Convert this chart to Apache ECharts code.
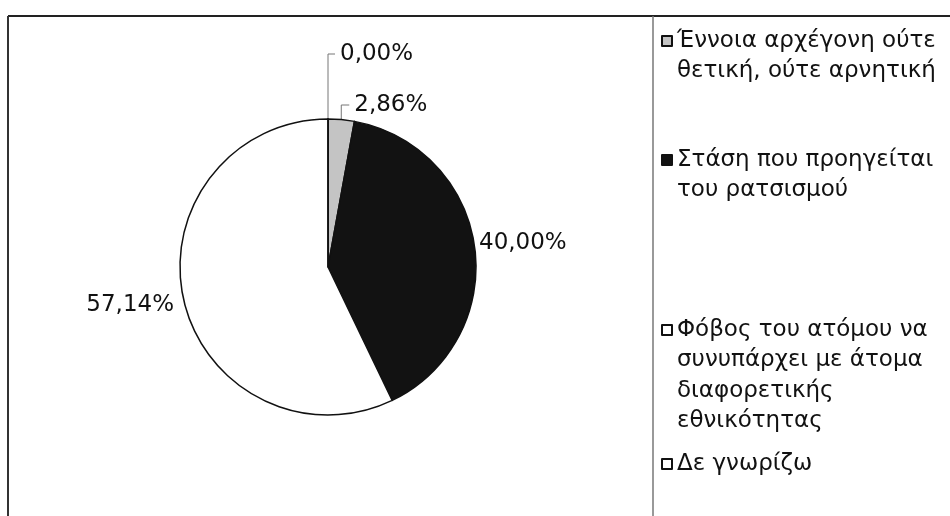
<!DOCTYPE html>
<html>
<head>
<meta charset="utf-8">
<script src="https://cdn.jsdelivr.net/npm/echarts@6/dist/echarts.min.js"></script>
<style>
  html, body { margin: 0; padding: 0; background: #fff; }
  #chart { width: 950px; height: 516px; }
</style>
</head>
<body>
<div id="chart"></div>
<script>
// ---- data ----
const categories = [
  'Έννοια αρχέγονη ούτε θετική, ούτε αρνητική',
  'Στάση που προηγείται του ρατσισμού',
  'Φόβος του ατόμου να συνυπάρχει με άτομα διαφορετικής εθνικότητας',
  'Δε γνωρίζω'
];
const legendLines = [
  ['Έννοια αρχέγονη ούτε', 'θετική, ούτε αρνητική'],
  ['Στάση που προηγείται', 'του ρατσισμού'],
  ['Φόβος του ατόμου να', 'συνυπάρχει με άτομα', 'διαφορετικής', 'εθνικότητας'],
  ['Δε γνωρίζω']
];
const values = [2.86, 40.00, 57.14, 0.00];
const colors = ['#c4c4c4', '#121212', '#ffffff', '#ffffff'];

// ---- layout ----
const CX = 328, CY = 267, R = 148;
const LH = 30.5;
const FONT = 'DejaVu Sans';
const legendIconY = [41, 160, 330, 464];

const chart = echarts.init(document.getElementById('chart'), null, { renderer: 'canvas' });

function fmt(v) { return v.toFixed(2).replace('.', ',') + '%'; }

const legends = categories.map((name, i) => {
  const n = legendLines[i].length;
  // leading blank lines so that the first real line sits level with the icon
  const lines = Array(n - 1).fill(' ').concat(legendLines[i]);
  return {
    data: [name],
    orient: 'vertical',
    left: 661,
    top: legendIconY[i] - (2 * n - 1) * LH / 2,
    padding: 0,
    icon: 'rect',
    itemWidth: 10,
    itemHeight: 10,
    selectedMode: false,
    formatter: () => lines.join('\n'),
    textStyle: {
      fontFamily: FONT,
      fontSize: 23,
      color: '#111',
      lineHeight: LH
    }
  };
});

chart.setOption({
  animation: false,
  backgroundColor: '#fff',
  legend: legends,
  graphic: [
    { type: 'line', shape: { x1: 8, y1: 16, x2: 950, y2: 16 }, style: { stroke: '#222', lineWidth: 2 } },
    { type: 'line', shape: { x1: 8, y1: 16, x2: 8, y2: 516 }, style: { stroke: '#333', lineWidth: 2 } },
    { type: 'line', shape: { x1: 653, y1: 16, x2: 653, y2: 516 }, style: { stroke: '#777', lineWidth: 1.5 } }
  ],
  series: [{
    type: 'pie',
    center: [CX, CY],
    radius: R,
    startAngle: 90,
    clockwise: true,
    avoidLabelOverlap: false,
    stillShowZeroSum: true,
    itemStyle: { borderColor: '#111', borderWidth: 1.5 },
    label: {
      show: true,
      position: 'outside',
      fontFamily: FONT,
      fontSize: 23,
      color: '#111',
      formatter: p => fmt(p.value)
    },
    labelLine: { show: true, lineStyle: { color: '#777', width: 1 } },
    emphasis: { disabled: true },
    data: categories.map((name, i) => ({
      name: name,
      value: values[i],
      itemStyle: { color: colors[i] },
      labelLine: { show: i === 0 || i === 3 }
    })),
    labelLayout: function (p) {
      const i = p.dataIndex;
      if (i === 0) {
        const a = (values[0] / 2) / 100 * 2 * Math.PI;
        const sx = CX + R * Math.sin(a), sy = CY - R * Math.cos(a);
        const ly = CY - R - 14;
        return { x: sx + 13, y: ly, align: 'left', verticalAlign: 'middle',
                 labelLinePoints: [[sx, sy], [sx, ly], [sx + 8, ly]] };
      }
      if (i === 3) {
        const ly = CY - R - 65;
        return { x: CX + 12, y: ly, align: 'left', verticalAlign: 'middle',
                 labelLinePoints: [[CX, CY - R], [CX, ly], [CX + 7, ly]] };
      }
      if (i === 1) {
        return { x: CX + R + 3, y: CY - 24, align: 'left', verticalAlign: 'middle' };
      }
      return { x: CX - R - 6, y: CY + 38, align: 'right', verticalAlign: 'middle' };
    }
  }]
});
</script>
</body>
</html>
